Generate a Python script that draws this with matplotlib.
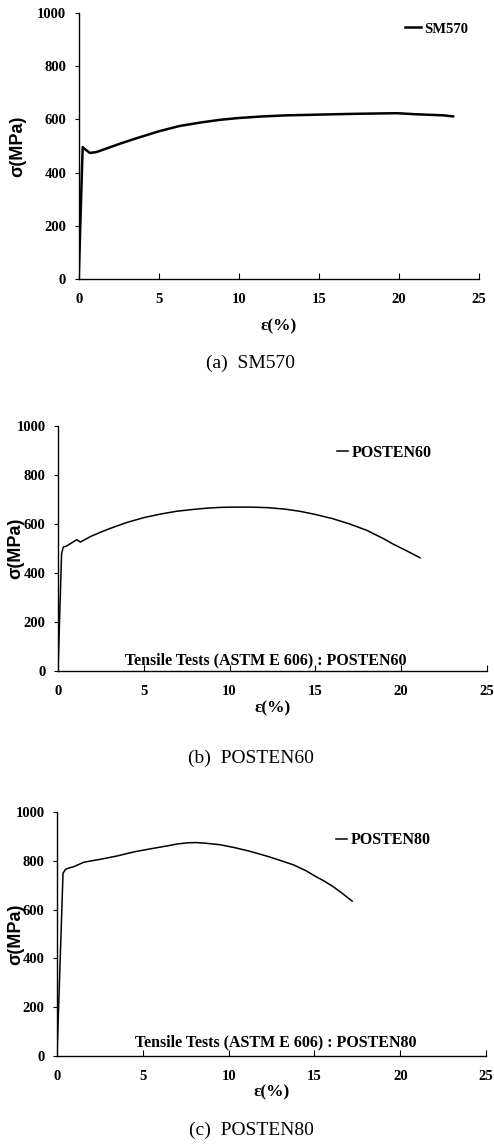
import numpy as np
import matplotlib.pyplot as plt

# strain (%) and stress (MPa)
sm570_strain = [0, 0.2, 0.25, 0.35, 0.7, 1.1, 2.6, 3.5, 4.2, 5.0, 6.3, 7.6, 8.8, 10.0,
                11.5, 13.0, 14.5, 15.9, 17.5, 19.9, 21.1, 22.8, 23.4]
sm570_stress = [0, 402, 496, 490, 474, 477, 509, 527, 540, 555, 575, 588, 598, 605,
                611, 615, 617, 619, 621, 623, 619, 615, 611]

p60_strain = [0, 0.21, 0.31, 0.5, 1.1, 1.3, 1.9, 2.4, 3.0, 4.0, 5.0, 6.0, 6.9, 7.8, 8.7,
              9.5, 10.2, 11.2, 12.2, 13.2, 14.1, 15.0, 16.0, 17.0, 18.0, 19.0, 19.5, 20.3, 21.1]
p60_stress = [0, 480, 507, 511, 537, 527, 550, 565, 582, 607, 627, 642, 653, 660, 666,
              669, 670, 670, 668, 662, 653, 640, 623, 601, 575, 540, 520, 492, 463]

p80_strain = [0, 0.35, 0.49, 0.7, 0.97, 1.2, 1.55, 2.0, 2.5, 3.5, 4.5, 5.5, 6.4, 7.0, 7.6,
              8.1, 8.7, 9.5, 10.3, 11.2, 12.2, 13.0, 13.8, 14.5, 15.1, 15.6, 16.1, 16.6, 17.2]
p80_stress = [0, 749, 765, 771, 776, 783, 794, 800, 806, 820, 837, 850, 861, 869, 874,
              875, 872, 866, 855, 840, 820, 802, 783, 760, 735, 716, 694, 668, 635]

x_ticks = [0, 5, 10, 15, 20, 25]
y_ticks = [0, 200, 400, 600, 800, 1000]

serif = 'Liberation Serif'
sans = 'Liberation Sans'

fig = plt.figure(figsize=(4.94, 11.46), dpi=100)

panels = [
    dict(rect=[0.1593, 0.7563, 0.8097, 0.2326], x=sm570_strain, y=sm570_stress, lw=1.8,
         name='SM570', leg=(0.975, 0.939), leg_fs=10.5, hl=1.1, note=None,
         xlab_y=-0.146, ylab_x=-0.132, cap='(a)  SM570', cap_y=363),
    dict(rect=[0.1174, 0.4145, 0.8684, 0.2134], x=p60_strain, y=p60_stress, lw=1.1,
         name='POSTEN60', leg=(0.872, 0.892), leg_fs=11.5, hl=0.7,
         note=('Tensile Tests (ASTM E 606) : POSTEN60', 0.485, 0.045),
         xlab_y=-0.119, ylab_x=-0.079, cap='(b)  POSTEN60', cap_y=758),
    dict(rect=[0.1154, 0.0785, 0.8684, 0.2129], x=p80_strain, y=p80_stress, lw=1.1,
         name='POSTEN80', leg=(0.872, 0.885), leg_fs=11.5, hl=0.7,
         note=('Tensile Tests (ASTM E 606) : POSTEN80', 0.51, 0.057),
         xlab_y=-0.115, ylab_x=-0.077, cap='(c)  POSTEN80', cap_y=1130),
]

for p in panels:
    ax = fig.add_axes(p['rect'])
    ax.plot(p['x'], p['y'], color='black', lw=p['lw'], label=p['name'])
    ax.set_xlim(0, 25)
    ax.set_ylim(0, 1000)
    ax.set_xticks(x_ticks)
    ax.set_yticks(y_ticks)
    ax.spines['top'].set_visible(False)
    ax.spines['right'].set_visible(False)
    ax.spines['left'].set_linewidth(1.0)
    ax.spines['bottom'].set_linewidth(1.0)
    ax.tick_params(axis='x', direction='in', length=4, width=0.8, pad=10)
    ax.tick_params(axis='y', direction='out', length=3, width=0.8, pad=6)
    for lab in ax.get_xticklabels() + ax.get_yticklabels():
        lab.set_fontfamily(serif)
        lab.set_fontweight('bold')
        lab.set_fontsize(10.5)
    ax.set_xlabel('ε(%)', fontfamily=serif, fontweight='bold', fontsize=12.5)
    ax.set_ylabel('σ(MPa)', fontfamily=sans, fontweight='bold', fontsize=13)
    ax.xaxis.set_label_coords(0.5, p['xlab_y'])
    ax.yaxis.set_label_coords(p['ylab_x'], 0.5)
    ax.legend(loc='center right', bbox_to_anchor=p['leg'], frameon=False,
              borderpad=0, borderaxespad=0, handlelength=p['hl'], handletextpad=0.25,
              prop=dict(family=serif, weight='bold', size=p['leg_fs']))
    if p['note']:
        txt, nx, ny = p['note']
        ax.text(nx, ny, txt, transform=ax.transAxes, ha='center', va='center',
                fontfamily=serif, fontweight='bold', fontsize=11.5)
    fig.text(251 / 494, 1 - p['cap_y'] / 1146, p['cap'], ha='center', va='center',
             fontfamily=serif, fontsize=14)

plt.savefig('out.png', dpi=100)
